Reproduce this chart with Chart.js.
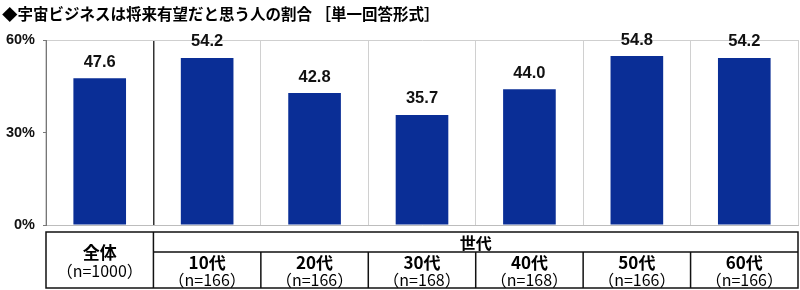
<!DOCTYPE html>
<html>
<head>
<meta charset="utf-8">
<script src="https://cdn.jsdelivr.net/npm/chart.js@4.4.1/dist/chart.umd.min.js"></script>
<style>
  html, body { margin: 0; padding: 0; background: #fff; }
  #wrap { width: 800px; height: 290px; position: relative; }
</style>
</head>
<body>
<div id="wrap"><canvas id="c" width="800" height="290"></canvas></div>
<script>
const titleText = '◆宇宙ビジネスは将来有望だと思う人の割合 ［単一回答形式］';
const categories = ['全体', '10代', '20代', '30代', '40代', '50代', '60代'];
const sampleSizes = ['（n=1000）', '（n=166）', '（n=166）', '（n=168）', '（n=168）', '（n=166）', '（n=166）'];
const groupLabel = '世代';
const values = [47.6, 54.2, 42.8, 35.7, 44.0, 54.8, 54.2];
const yTicks = [0, 30, 60];

const JP = '"Noto Sans CJK JP", "Noto Sans", sans-serif';
const LAT = '"Liberation Sans", Arial, sans-serif';

const overlay = {
  id: 'overlay',
  afterDraw(chart) {
    const ctx = chart.ctx;
    const xs = chart.scales.x;
    const area = chart.chartArea;
    ctx.save();

    // title
    ctx.fillStyle = '#000';
    ctx.font = 'bold 15.5px ' + JP;
    ctx.textAlign = 'left';
    ctx.textBaseline = 'middle';
    ctx.fillText(titleText, 2, 14);

    // value labels
    const meta = chart.getDatasetMeta(0);
    ctx.font = 'bold 16.5px ' + LAT;
    ctx.textAlign = 'center';
    ctx.textBaseline = 'middle';
    ctx.fillStyle = '#111';
    meta.data.forEach((bar, i) => {
      ctx.fillText(values[i].toFixed(1), bar.x, bar.y - 16);
    });

    // table
    const n = categories.length;
    const half = (xs.getPixelForValue(1) - xs.getPixelForValue(0)) / 2;
    const left = area.left;
    const right = area.right;
    const top = area.bottom + 7;
    const mid = top + 20;
    const bottom = 288;
    const split = xs.getPixelForValue(0) + half;

    ctx.strokeStyle = '#111';
    ctx.lineWidth = 1.5;
    ctx.strokeRect(left, top, right - left, bottom - top);
    ctx.beginPath();
    ctx.moveTo(split, top); ctx.lineTo(split, bottom);
    ctx.moveTo(split, mid); ctx.lineTo(right, mid);
    for (let i = 1; i < n - 1; i++) {
      const bx = xs.getPixelForValue(i) + half;
      ctx.moveTo(bx, mid); ctx.lineTo(bx, bottom);
    }
    ctx.stroke();

    ctx.fillStyle = '#000';
    ctx.textAlign = 'center';
    ctx.textBaseline = 'middle';
    // group header
    ctx.font = 'bold 16px ' + JP;
    ctx.fillText(groupLabel, (split + right) / 2, top + 10.5);
    // first column
    const x0 = xs.getPixelForValue(0);
    ctx.font = 'bold 17px ' + JP;
    ctx.fillText(categories[0], x0, 253);
    ctx.font = '16px ' + JP;
    ctx.fillText(sampleSizes[0], x0, 271);
    for (let i = 1; i < n; i++) {
      const cx = xs.getPixelForValue(i);
      ctx.font = 'bold 17px ' + JP;
      ctx.fillText(categories[i], cx, 263);
      ctx.font = '16px ' + JP;
      ctx.fillText(sampleSizes[i], cx, 280);
    }
    ctx.restore();
  }
};

new Chart(document.getElementById('c'), {
  type: 'bar',
  data: {
    labels: categories,
    datasets: [{
      data: values,
      backgroundColor: '#0a2e96',
      borderWidth: 0,
      barPercentage: 0.49,
      categoryPercentage: 1.0
    }]
  },
  options: {
    responsive: false,
    animation: false,
    events: [],
    layout: { padding: { top: 40, bottom: 65, right: 2, left: 0 } },
    plugins: { legend: { display: false }, tooltip: { enabled: false }, title: { display: false } },
    scales: {
      x: {
        offset: true,
        ticks: { display: false },
        grid: {
          offset: true,
          drawTicks: false,
          color: (c) => (c.index === 1 ? '#333' : '#d0d0d0'),
          lineWidth: (c) => (c.index === 1 ? 1.5 : 1)
        },
        border: { display: true, color: '#bdbdbd' },
        afterFit: (s) => { s.height = 0; }
      },
      y: {
        min: 0,
        max: 60,
        afterBuildTicks: (s) => { s.ticks = yTicks.map(v => ({ value: v })); },
        ticks: {
          callback: (v) => v + '%',
          color: '#111',
          font: { family: LAT, size: 14.5, weight: 'bold' },
          padding: 8
        },
        grid: {
          color: (c) => (c.tick && c.tick.value === 30 ? 'rgba(0,0,0,0)' : '#cfcfcf'),
          tickColor: '#777',
          tickLength: 3
        },
        border: { display: true, color: '#777' },
        afterFit: (s) => { s.width = 46; }
      }
    }
  },
  plugins: [overlay]
});
</script>
</body>
</html>
